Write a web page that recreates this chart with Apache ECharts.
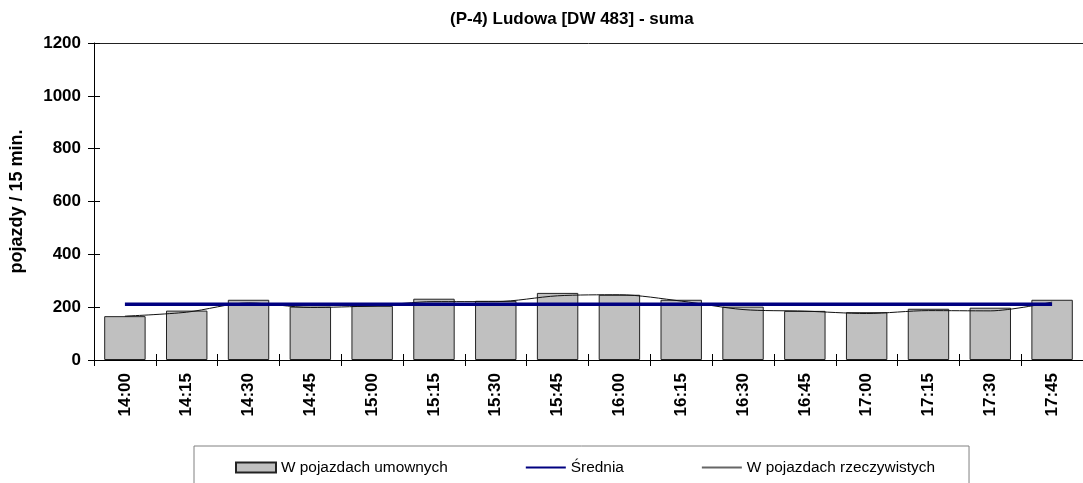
<!DOCTYPE html>
<html>
<head>
<meta charset="utf-8">
<script src="https://cdn.jsdelivr.net/npm/echarts@6/dist/echarts.min.js"></script>
<style>
    html, body { margin: 0; padding: 0; background: #fff; }
    #chart { width: 1083px; height: 483px; }
</style>
</head>
<body>
<div id="chart"></div>
<script>
// godziny pomiaru (przedziały 15 min.)
var categories = ["14:00", "14:15", "14:30", "14:45", "15:00", "15:15", "15:30", "15:45",
    "16:00", "16:15", "16:30", "16:45", "17:00", "17:15", "17:30", "17:45"];
// W pojazdach umownych
var umowne = [166, 187, 228, 202, 205, 232, 224, 254, 247, 228, 202, 186, 181, 194, 198, 228];
// W pojazdach rzeczywistych
var rzeczywiste = [166, 181, 216, 199, 205, 221, 221, 243, 247, 223, 191, 185, 176, 187, 186, 219];
// Średnia
var srednia = [211, 211, 211, 211, 211, 211, 211, 211, 211, 211, 211, 211, 211, 211, 211, 211];
// podziałka osi Y
var yMin = 0, yMax = 1200, yStep = 200;

var FONT = "Liberation Sans, Arial, sans-serif";

var myChart = echarts.init(document.getElementById("chart"));

var option = {
    animation: false,
    backgroundColor: "#fff",
    title: {
        text: "(P-4) Ludowa [DW 483] - suma",
        left: 445,
        top: 6,
        textStyle: { fontFamily: FONT, fontSize: 17, fontWeight: "bold", color: "#000" }
    },
    legend: {
        left: 194,
        top: 446,
        padding: [14, 34, 30, 41],
        borderColor: "#808080",
        borderWidth: 1,
        itemWidth: 40,
        itemHeight: 10,
        itemGap: 77,
        textStyle: { fontFamily: FONT, fontSize: 15.4, color: "#000" },
        data: [
            { name: "W pojazdach umownych", icon: "rect" },
            { name: "Średnia", itemStyle: { opacity: 0 } },
            { name: "W pojazdach rzeczywistych", itemStyle: { opacity: 0 }, lineStyle: { color: "#666" } }
        ]
    },
    grid: {
        left: 93,
        right: -7,
        top: 43,
        bottom: 123,
        containLabel: false
    },
    xAxis: [{
        type: "category",
        data: categories,
        position: "bottom",
        axisLine: { show: true, lineStyle: { color: "#000", width: 1 } },
        axisTick: { show: true, length: 6, lineStyle: { color: "#000" } },
        axisLabel: {
            rotate: 90,
            margin: 13,
            fontFamily: FONT, fontSize: 17, fontWeight: "bold", color: "#000"
        },
        splitLine: { show: false }
    }, {
        // druga oś - kreski do środka (przecinające oś)
        type: "category",
        data: categories,
        position: "bottom",
        axisLine: { show: false },
        axisTick: { show: true, inside: true, length: 6, lineStyle: { color: "#000" } },
        axisLabel: { show: false },
        splitLine: { show: false }
    }, {
        // górna krawędź wykresu
        type: "category",
        data: categories,
        position: "top",
        axisLine: { show: true, lineStyle: { color: "#222", width: 1 } },
        axisTick: { show: false },
        axisLabel: { show: false },
        splitLine: { show: false }
    }],
    yAxis: [{
        type: "value",
        min: yMin,
        max: yMax,
        interval: yStep,
        position: "left",
        name: "pojazdy / 15 min.",
        nameLocation: "middle",
        nameRotate: 90,
        nameGap: 68,
        nameTextStyle: { fontFamily: FONT, fontSize: 18, fontWeight: "bold", color: "#000" },
        axisLine: { show: true, lineStyle: { color: "#000", width: 1 } },
        axisTick: { show: true, length: 6, lineStyle: { color: "#000" } },
        axisLabel: {
            margin: 13,
            fontFamily: FONT, fontSize: 17, fontWeight: "bold", color: "#000",
            formatter: function (v) { return String(v); }
        },
        splitLine: { show: false }
    }, {
        type: "value",
        min: yMin,
        max: yMax,
        interval: yStep,
        position: "left",
        axisLine: { show: false },
        axisTick: { show: true, inside: true, length: 6, lineStyle: { color: "#000" } },
        axisLabel: { show: false },
        splitLine: { show: false }
    }],
    series: [{
        name: "W pojazdach umownych",
        type: "bar",
        data: umowne,
        barWidth: "67%",
        itemStyle: { color: "#C0C0C0", borderColor: "#222", borderWidth: 1 },
        z: 1
    }, {
        name: "Średnia",
        type: "line",
        data: srednia,
        symbol: "none",
        lineStyle: { color: "#000080", width: 3.5 },
        itemStyle: { color: "#000080" },
        z: 3
    }, {
        name: "W pojazdach rzeczywistych",
        type: "line",
        data: rzeczywiste,
        symbol: "none",
        smooth: 0.3,
        lineStyle: { color: "#111", width: 1 },
        itemStyle: { color: "#555" },
        z: 2
    }]
};

myChart.setOption(option);
</script>
</body>
</html>
